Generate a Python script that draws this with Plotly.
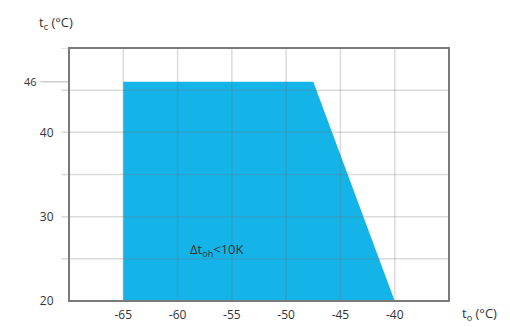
import plotly.graph_objects as go

# Data
region_to = [-65, -65, -47.5, -40]   # outdoor temp t_o (°C)
region_tc = [20, 46, 46, 20]          # condensing temp t_c (°C)
x_ticks = [-65, -60, -55, -50, -45, -40]
y_ticks = [20, 30, 40]
y_grid = [25, 35, 45]
label_text = "Δt<sub>oh</sub><10K"
label_pos = (-56.4, 26.1)
max_tc = 46

FONT = "Open Sans"
TXT = "#333333"
FILL = "#14b4e9"

fig = go.Figure()
fig.add_trace(go.Scatter(
    x=region_to + [region_to[0]], y=region_tc + [region_tc[0]],
    fill="toself", fillcolor=FILL, mode="lines", line=dict(width=0),
    hoverinfo="skip", showlegend=False))

GRID = "rgba(110,110,110,0.25)"
shapes = []
for xv in x_ticks:
    shapes.append(dict(type="line", xref="x", yref="y", x0=xv, x1=xv, y0=20, y1=50,
                       line=dict(color=GRID, width=1.5), layer="above"))
for yv in y_ticks + y_grid:
    if yv == 20:
        continue
    shapes.append(dict(type="line", xref="paper", yref="y", x0=-0.02, x1=1, y0=yv, y1=yv,
                       line=dict(color=GRID, width=1.5), layer="above"))
shapes.append(dict(type="line", xref="paper", yref="y", x0=-0.02, x1=0, y0=50, y1=50,
                   line=dict(color=GRID, width=1.5)))
# 46 marker line
shapes.append(dict(type="line", xref="paper", yref="y", x0=-0.075, x1=0, y0=max_tc, y1=max_tc,
                   line=dict(color="rgba(110,110,110,0.35)", width=1.5)))
# frame
shapes.append(dict(type="rect", xref="paper", yref="paper", x0=0, x1=1, y0=0, y1=1,
                   line=dict(color="#7a7a7a", width=2), layer="above"))

annotations = [
    dict(x=label_pos[0], y=label_pos[1], xref="x", yref="y", text=label_text,
         showarrow=False, font=dict(family=FONT, size=13, color=TXT)),
    dict(x=-0.08, y=max_tc, xref="paper", yref="y", text=str(max_tc), showarrow=False,
         xanchor="right", font=dict(family=FONT, size=11, color=TXT)),
    dict(x=-0.085, y=1.10, xref="paper", yref="paper", text="t<sub>c</sub> (°C)",
         showarrow=False, xanchor="left", yanchor="middle",
         font=dict(family=FONT, size=13, color=TXT)),
    dict(x=1.03, y=-0.05, xref="paper", yref="paper", text="t<sub>o</sub> (°C)",
         showarrow=False, xanchor="left", yanchor="middle",
         font=dict(family=FONT, size=13, color=TXT)),
]

# The page body has an 8px default margin, so the figure is sized to fit.
fig.update_layout(
    width=502, height=319,
    margin=dict(l=61, r=61, t=40, b=26),
    paper_bgcolor="white", plot_bgcolor="white",
    shapes=shapes, annotations=annotations,
    xaxis=dict(range=[-70, -35], tickvals=x_ticks, ticktext=[str(v) for v in x_ticks],
               showgrid=False, zeroline=False, showline=False, automargin=False,
               ticks="outside", ticklen=3, tickcolor="rgba(0,0,0,0)",
               tickfont=dict(family=FONT, size=12, color=TXT)),
    yaxis=dict(range=[20, 50], tickvals=y_ticks, ticktext=[str(v) for v in y_ticks],
               showgrid=False, zeroline=False, showline=False, automargin=False,
               ticks="outside", ticklen=12, tickcolor="rgba(0,0,0,0)",
               tickfont=dict(family=FONT, size=12, color=TXT)),
)

fig.write_html("out.html")
